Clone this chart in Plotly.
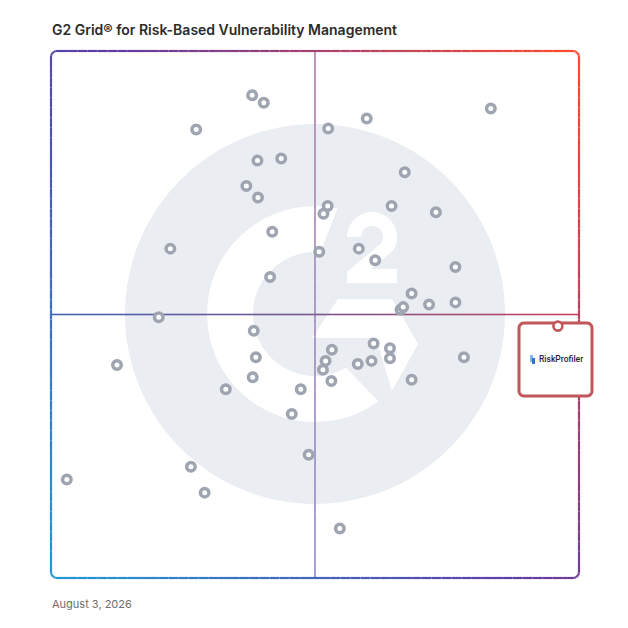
import math
import plotly.graph_objects as go

# G2 Grid scores (0-100 on both axes)
satisfaction = [38.1, 40.3, 27.5, 52.5, 59.8, 83.3, 39.1, 43.6, 37.0, 39.2,
                67.0, 52.4, 51.6, 64.5, 72.9, 41.9, 22.6, 50.8, 58.3, 61.4,
                41.5, 76.6, 68.3, 71.6, 76.6, 66.2, 66.7, 20.4, 38.4, 53.2,
                61.1, 64.2, 38.8, 52.0, 51.5, 58.1, 60.7, 64.2, 78.2, 12.5,
                38.2, 53.1, 68.3, 33.1, 47.3, 45.6, 48.8, 26.5, 3.0, 29.1, 54.7]
market_presence = [91.6, 90.2, 85.1, 85.3, 87.2, 89.1, 79.2, 79.6, 74.4, 72.2,
                   77.0, 70.6, 69.1, 70.6, 69.4, 65.7, 62.5, 61.9, 62.5, 60.3,
                   57.1, 59.0, 54.0, 51.9, 52.3, 50.9, 51.4, 49.5, 46.9, 43.3,
                   44.5, 43.6, 41.9, 41.2, 39.5, 40.6, 41.2, 41.7, 41.9, 40.4,
                   38.1, 37.4, 37.6, 35.8, 35.8, 31.1, 23.4, 21.1, 18.7, 16.2, 9.4]

highlight_name = "RiskProfiler"
highlight_satisfaction = [96.0]
highlight_presence = [47.8]

title_text = "G2 Grid® for Risk-Based Vulnerability Management"
date_text = "August 3, 2026"

# frame in page pixels; the page body adds an 8px margin round the figure
PAGE = 628
OFF = 8
L, T, R, B = 51, 51, 579, 578


def px(x):
    return (x - L) / (R - L)


def py(y):
    return (B - y) / (B - T)


def rgb(h):
    h = h.lstrip("#")
    return [int(h[i:i + 2], 16) for i in (0, 2, 4)]


def mix(stops, t):
    t = max(0.0, min(1.0, t))
    for (t0, c0), (t1, c1) in zip(stops, stops[1:]):
        if t <= t1:
            f = (t - t0) / (t1 - t0) if t1 > t0 else 0
            a, b = rgb(c0), rgb(c1)
            return "rgb(%d,%d,%d)" % tuple(round(a[i] + (b[i] - a[i]) * f) for i in range(3))
    return stops[-1][1]


def path_of(points, close=True):
    s = "M " + " L ".join("%.5f,%.5f" % (px(x), py(y)) for x, y in points)
    return s + (" Z" if close else "")


def arc(cx, cy, r, a0, a1, n=40):
    pts = []
    for i in range(n + 1):
        a = math.radians(a0 + (a1 - a0) * i / n)
        pts.append((cx + r * math.cos(a), cy - r * math.sin(a)))
    return pts


shapes = []

# G2 watermark
cx, cy = 315, 314
shapes.append(dict(type="circle", xref="paper", yref="paper", layer="below",
                   x0=px(cx - 190), x1=px(cx + 190), y0=py(cy + 190), y1=py(cy - 190),
                   fillcolor="#EAEDF1", line=dict(width=0)))
ring = arc(cx, cy, 108, 78, 306) + arc(cx, cy, 62, 300, 85)
shapes.append(dict(type="path", xref="paper", yref="paper", layer="below",
                   path=path_of(ring), fillcolor="white", line=dict(width=0)))
chevron = [(338, 299), (392, 299), (418, 344), (392, 391), (376, 338), (312, 338)]
shapes.append(dict(type="path", xref="paper", yref="paper", layer="below",
                   path=path_of(chevron), fillcolor="white", line=dict(width=0)))
two = ([(347, 283), (397, 283), (397, 269), (371, 269)]
       + arc(372, 237, 25, -32, 180, 30)
       + [(347, 237), (361, 237)]
       + arc(372, 237, 11, 180, -35, 30)
       + [(347, 272)])
shapes.append(dict(type="path", xref="paper", yref="paper", layer="below",
                   path=path_of(two), fillcolor="white", line=dict(width=0)))

# quadrant lines with gradient
n = 48
v_stops = [(0, "#B27CAC"), (1, "#8C8AD3")]
h_stops = [(0, "#4263B5"), (0.5, "#7A5590"), (1, "#C8445A")]
for i in range(n):
    y0 = T + (B - T) * i / n
    y1 = T + (B - T) * (i + 1) / n
    shapes.append(dict(type="line", xref="paper", yref="paper", layer="below",
                       x0=px(315), x1=px(315), y0=py(y0), y1=py(y1),
                       line=dict(color=mix(v_stops, (i + 0.5) / n), width=1.6)))
    x0 = L + (R - L) * i / n
    x1 = L + (R - L) * (i + 1) / n
    shapes.append(dict(type="line", xref="paper", yref="paper", layer="below",
                       x0=px(x0), x1=px(x1), y0=py(314.5), y1=py(314.5),
                       line=dict(color=mix(h_stops, (i + 0.5) / n), width=1.6)))

# rounded frame with diagonal gradient
frame_stops = [(0, "#1F99D8"), (0.5, "#5F3BA5"), (1, "#FF4A2A")]
r = 6


def edge(p, q, step=10):
    k = max(1, int(math.hypot(q[0] - p[0], q[1] - p[1]) / step))
    return [(p[0] + (q[0] - p[0]) * j / k, p[1] + (q[1] - p[1]) * j / k) for j in range(k)]


perim = (edge((L + r, T), (R - r, T)) + arc(R - r, T + r, r, 90, 0, 6)[:-1]
         + edge((R, T + r), (R, B - r)) + arc(R - r, B - r, r, 0, -90, 6)[:-1]
         + edge((R - r, B), (L + r, B)) + arc(L + r, B - r, r, -90, -180, 6)[:-1]
         + edge((L, B - r), (L, T + r)) + arc(L + r, T + r, r, 180, 90, 6)[:-1])
perim.append(perim[0])
for p, q in zip(perim, perim[1:]):
    mx, my = (p[0] + q[0]) / 2, (p[1] + q[1]) / 2
    t = 0.56 * (mx - L) / (R - L) + 0.44 * (B - my) / (B - T)
    shapes.append(dict(type="line", xref="paper", yref="paper", layer="below",
                       x0=px(p[0]), x1=px(q[0]), y0=py(p[1]), y1=py(q[1]),
                       line=dict(color=mix(frame_stops, t), width=2.2)))

# highlighted vendor card
bx0, by0, bx1, by1, br = 519, 323, 592, 396, 5
card = (arc(bx1 - br, by0 + br, br, 90, 0, 6) + arc(bx1 - br, by1 - br, br, 0, -90, 6)
        + arc(bx0 + br, by1 - br, br, -90, -180, 6) + arc(bx0 + br, by0 + br, br, 180, 90, 6))
shapes.append(dict(type="path", xref="paper", yref="paper", layer="below",
                   path=path_of(card), fillcolor="white",
                   line=dict(color="#C1575A", width=3)))
# tiny logo icon
shapes.append(dict(type="rect", xref="paper", yref="paper", layer="below",
                   x0=px(530), x1=px(533), y0=py(362), y1=py(355),
                   fillcolor="#7DB8EE", line=dict(width=0)))
shapes.append(dict(type="rect", xref="paper", yref="paper", layer="below",
                   x0=px(532), x1=px(535), y0=py(364), y1=py(358),
                   fillcolor="#2E6FD8", line=dict(width=0)))

fig = go.Figure()
fig.add_trace(go.Scatter(
    x=satisfaction, y=market_presence, mode="markers", cliponaxis=False,
    marker=dict(size=8.5, color="white", line=dict(color="#9EA4B0", width=3.5)),
    hoverinfo="skip"))
fig.add_trace(go.Scatter(
    x=highlight_satisfaction, y=highlight_presence, mode="markers", cliponaxis=False,
    name=highlight_name,
    marker=dict(size=9, color="white", line=dict(color="#C1575A", width=2.6))))

annotations = [
    dict(text=title_text, x=px(50), y=py(29), xref="paper", yref="paper",
         xanchor="left", yanchor="middle", showarrow=False,
         font=dict(family="Inter", size=14, color="#2B2B2B", weight=600)),
    dict(text=date_text, x=px(50), y=py(604), xref="paper", yref="paper",
         xanchor="left", yanchor="middle", showarrow=False,
         font=dict(family="Inter", size=11, color="#6E6E6E")),
    dict(text=highlight_name, x=px(537), y=py(359), xref="paper", yref="paper",
         xanchor="left", yanchor="middle", showarrow=False,
         font=dict(family="Roboto", size=8.5, color="#1B2540", weight=500)),
]

W = PAGE - 2 * OFF
fig.update_layout(
    width=W, height=W,
    margin=dict(l=L - OFF, r=W - (R - OFF), t=T - OFF, b=W - (B - OFF)),
    paper_bgcolor="white", plot_bgcolor="rgba(0,0,0,0)",
    showlegend=False,
    xaxis=dict(range=[0, 100], visible=False, fixedrange=True),
    yaxis=dict(range=[0, 100], visible=False, fixedrange=True),
    shapes=shapes, annotations=annotations,
)

fig.write_html("out.html")
